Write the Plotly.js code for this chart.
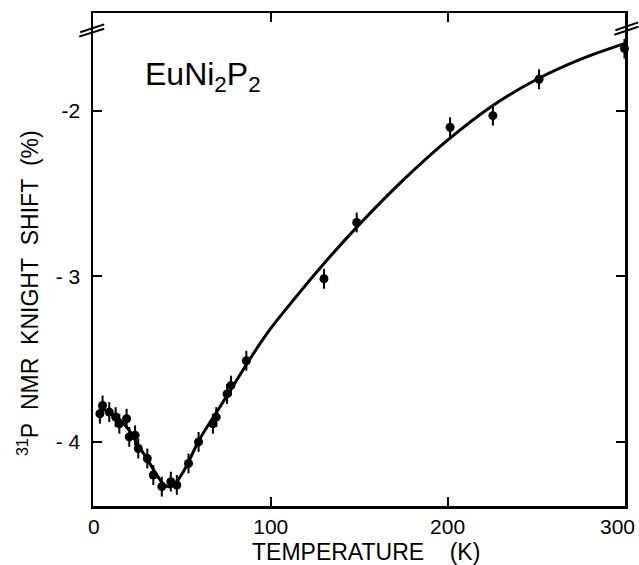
<!DOCTYPE html>
<html>
<head>
<meta charset="utf-8">
<script src="https://cdn.plot.ly/plotly-3.0.1.min.js"></script>
<style>html,body{margin:0;padding:0;background:#fff;}#chart{width:639px;height:565px;}</style>
</head>
<body>
<div id="chart"></div>
<script>
// Measured Knight shift points (temperature in K, shift in %)
const tempK = [3.4, 4.9, 8.7, 12.3, 14.4, 18.5, 20.0, 23.3, 25.1, 30.2, 33.6, 38.4, 43.5, 46.9, 53.5, 59.2, 67.3, 69.2, 75.3, 77.5, 86.2, 130.1, 148.6, 201.4, 225.6, 251.7, 300.0];
const shift = [-3.83, -3.78, -3.82, -3.85, -3.89, -3.86, -3.97, -3.96, -4.04, -4.10, -4.20, -4.27, -4.24, -4.26, -4.13, -4.00, -3.89, -3.85, -3.71, -3.66, -3.51, -3.015, -2.675, -2.10, -2.03, -1.81, -1.625];
const shiftErr = [0.06, 0.06, 0.06, 0.06, 0.06, 0.06, 0.06, 0.06, 0.06, 0.06, 0.06, 0.06, 0.06, 0.06, 0.06, 0.06, 0.06, 0.06, 0.06, 0.06, 0.06, 0.06, 0.06, 0.06, 0.06, 0.06, 0.06];

// Fitted curve
const curveT = [3, 10, 15, 20, 25, 30, 35, 40, 44, 50, 60, 70, 80, 90, 100, 110, 130, 150, 175, 200, 225, 250, 275, 300];
const curveK = [-3.79, -3.83, -3.87, -3.93, -4.02, -4.10, -4.19, -4.26, -4.27, -4.19, -3.98, -3.81, -3.64, -3.47, -3.315, -3.18, -2.924, -2.688, -2.418, -2.178, -1.973, -1.813, -1.69, -1.595];

// Tick labels
const xTickVals = [0, 100, 200, 300];
const xTickText = ['0', '100', '200', '300'];
const yTickVals = [-4, -3, -2];
const yTickText = ['- 4', '- 3', '-2'];

const FONT = 'Liberation Sans, Arial, sans-serif';
const NB = '\u00A0';
const TICKSIZE = 21;

const traces = [
  {
    x: curveT, y: curveK, type: 'scatter', mode: 'lines',
    line: {color: '#000', width: 3, shape: 'spline', smoothing: 1},
    hoverinfo: 'skip', cliponaxis: false
  },
  {
    x: tempK, y: shift, type: 'scatter', mode: 'markers',
    marker: {color: '#000', size: 9},
    error_y: {type: 'data', array: shiftErr, visible: true, color: '#000', thickness: 2, width: 0},
    cliponaxis: false
  }
];

const axisCommon = {
  showline: true, linecolor: '#000', linewidth: 2.5, mirror: 'ticks',
  ticks: 'inside', ticklen: 9, tickwidth: 2, tickcolor: '#000',
  showgrid: false, zeroline: false,
  tickfont: {family: FONT, size: TICKSIZE, color: '#000'}
};

// last x tick label sits at the plot's right edge; it is placed right-aligned at its tick
const lastIdx = xTickVals.length - 1;
const xLabelsOnAxis = xTickText.map((t, i) => (i === lastIdx ? '' : t));

const layout = {
  width: 639, height: 565,
  margin: {l: 93, r: 14, t: 13, b: 59},
  paper_bgcolor: '#fff', plot_bgcolor: '#fff',
  showlegend: false,
  xaxis: Object.assign({}, axisCommon, {
    range: [-0.5, 300.3], tickmode: 'array', tickvals: xTickVals, ticktext: xLabelsOnAxis,
    ticklabelstandoff: 0
  }),
  yaxis: Object.assign({}, axisCommon, {
    range: [-4.387, -1.41], tickmode: 'array', tickvals: yTickVals, ticktext: yTickText,
    ticklabelstandoff: 6
  }),
  annotations: [
    {text: xTickText[lastIdx], xref: 'x', yref: 'paper', x: xTickVals[lastIdx], y: -0.0406,
     xanchor: 'right', yanchor: 'middle', xshift: 13, showarrow: false,
     font: {family: FONT, size: TICKSIZE, color: '#000'}},
    {text: 'EuNi<sub>2</sub>P<sub>2</sub>', xref: 'paper', yref: 'paper', x: 0.094, y: 0.872,
     xanchor: 'left', yanchor: 'middle', showarrow: false,
     font: {family: FONT, size: 32, color: '#000'}},
    {text: 'TEMPERATURE' + NB + NB + NB + NB + '(K)', xref: 'paper', yref: 'paper', x: 0.513, y: -0.093,
     xanchor: 'center', yanchor: 'middle', showarrow: false,
     font: {family: FONT, size: 23, color: '#000'}},
    {text: '<sup>31</sup>P' + NB + NB + 'NMR' + NB + NB + 'KNIGHT' + NB + NB + 'SHIFT' + NB + NB + '(%)', xref: 'paper', yref: 'paper',
     x: -0.122, y: 0.432, xanchor: 'center', yanchor: 'middle', textangle: -90, showarrow: false,
     font: {family: FONT, size: 23, color: '#000'}}
  ],
  shapes: [
    // axis break marks, left
    {type: 'line', xref: 'paper', yref: 'paper', x0: -0.026, y0: 0.952, x1: 0.021, y1: 0.968, line: {color: '#000', width: 2}},
    {type: 'line', xref: 'paper', yref: 'paper', x0: -0.024, y0: 0.961, x1: 0.021, y1: 0.977, line: {color: '#000', width: 2}},
    // axis break marks, right
    {type: 'line', xref: 'paper', yref: 'paper', x0: 0.98, y0: 0.956, x1: 1.025, y1: 0.972, line: {color: '#000', width: 2}},
    {type: 'line', xref: 'paper', yref: 'paper', x0: 0.982, y0: 0.965, x1: 1.025, y1: 0.981, line: {color: '#000', width: 2}}
  ]
};

Plotly.newPlot('chart', traces, layout, {displayModeBar: false, staticPlot: true});
</script>
</body>
</html>
